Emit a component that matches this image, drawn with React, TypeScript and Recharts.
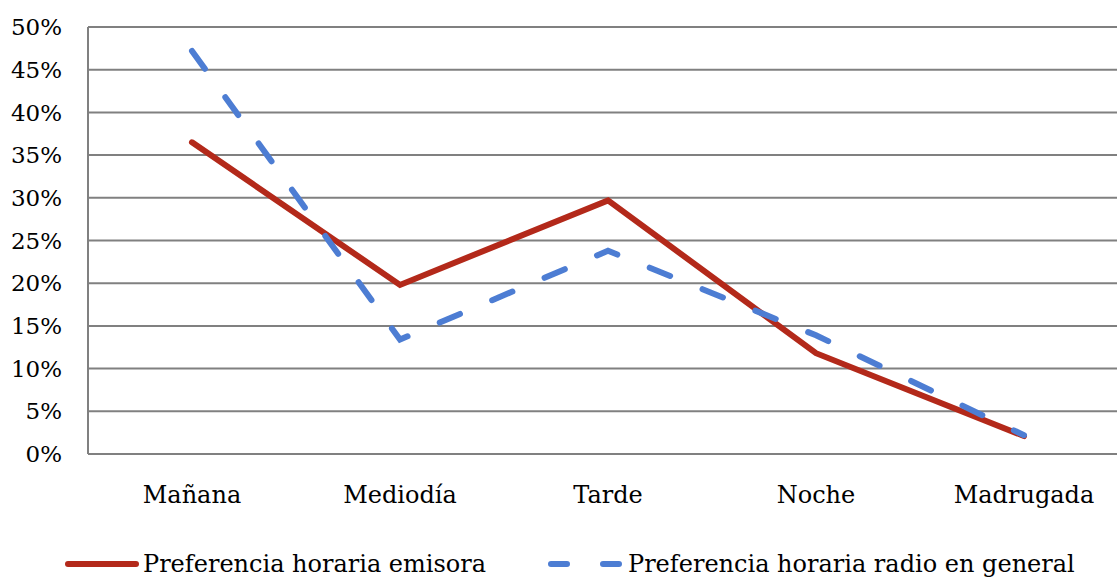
import React from 'react';
import { ComposedChart, Line, XAxis, YAxis, CartesianGrid } from 'recharts';

const categories = ['Mañana', 'Mediodía', 'Tarde', 'Noche', 'Madrugada'];
const emisora = [36.5, 19.8, 29.7, 11.8, 2.1];
const radioGeneral = [47.2, 13.4, 23.8, 13.9, 2.2];
const yTicks = [0, 5, 10, 15, 20, 25, 30, 35, 40, 45, 50];

const RED = '#b3291a';
const BLUE = '#4d7dd3';
const GRID = '#808080';
const FONT = '"DejaVu Serif", serif';

const chartData = categories.map((name, i) => ({
  name,
  emisora: emisora[i],
  radio: radioGeneral[i],
}));

function LegendRow() {
  return (
    <div
      style={{
        position: 'absolute',
        left: 0,
        top: 549,
        width: 1117,
        height: 30,
        fontFamily: FONT,
        fontSize: 24,
        color: '#000',
      }}
    >
      <svg width={80} height={30} style={{ position: 'absolute', left: 62, top: 0 }}>
        <line x1={6} y1={15} x2={74} y2={15} stroke={RED} strokeWidth={6} strokeLinecap="round" />
      </svg>
      <span style={{ position: 'absolute', left: 143, top: 0, whiteSpace: 'nowrap', lineHeight: '30px' }}>
        Preferencia horaria emisora
      </span>
      <svg width={80} height={30} style={{ position: 'absolute', left: 545, top: 0 }}>
        <line x1={6} y1={15} x2={74} y2={15} stroke={BLUE} strokeWidth={6} strokeLinecap="round" strokeDasharray="16 36" />
      </svg>
      <span style={{ position: 'absolute', left: 628, top: 0, whiteSpace: 'nowrap', lineHeight: '30px' }}>
        Preferencia horaria radio en general
      </span>
    </div>
  );
}

export default function App() {
  return (
    <div
      style={{
        position: 'absolute',
        left: 0,
        top: 0,
        width: 1117,
        height: 579,
        overflow: 'hidden',
        background: '#fff',
      }}
    >
      <ComposedChart
        width={1140}
        height={579}
        data={chartData}
        margin={{ top: 27, right: 12, bottom: 65, left: 0 }}
      >
        <CartesianGrid vertical={false} stroke={GRID} strokeWidth={2} />
        <XAxis
          dataKey="name"
          scale="band"
          axisLine={{ stroke: GRID, strokeWidth: 2 }}
          tickLine={false}
          tickSize={0}
          tickMargin={32}
          height={60}
          tick={{ fontSize: 24, fill: '#000', fontFamily: FONT }}
        />
        <YAxis
          domain={[0, 50]}
          ticks={yTicks}
          interval={0}
          width={88}
          axisLine={{ stroke: GRID, strokeWidth: 2 }}
          tickLine={false}
          tickSize={0}
          tickMargin={26}
          tickFormatter={(v: number) => `${v}%`}
          tick={{ fontSize: 23, fill: '#000', fontFamily: FONT }}
        />
        <Line
          type="linear"
          dataKey="emisora"
          stroke={RED}
          strokeWidth={6}
          strokeLinecap="round"
          dot={false}
          activeDot={false}
          isAnimationActive={false}
        />
        <Line
          type="linear"
          dataKey="radio"
          stroke={BLUE}
          strokeWidth={6}
          strokeLinecap="round"
          strokeDasharray="22 35"
          dot={false}
          activeDot={false}
          isAnimationActive={false}
        />
      </ComposedChart>
      <LegendRow />
    </div>
  );
}
